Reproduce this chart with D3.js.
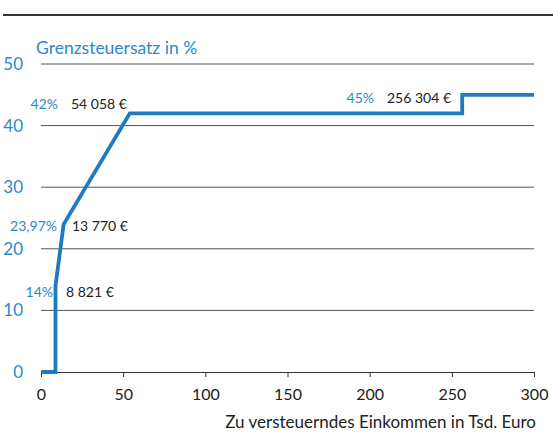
<!DOCTYPE html>
<html><head><meta charset="utf-8">
<script src="https://cdn.jsdelivr.net/npm/d3@7"></script>
<style>
body{margin:0;background:#fff;}
svg{display:block;font-family:"Lato","Noto Sans",sans-serif;}
</style></head>
<body>
<svg id="c" width="553" height="435"></svg>
<script>
const incomeK = [0, 8.821, 8.821, 13.770, 54.058, 256.304, 256.304, 300];
const ratePct = [0, 0, 14, 23.97, 42, 42, 45, 45];
const xTicks = [0, 50, 100, 150, 200, 250, 300];
const yTicks = [0, 10, 20, 30, 40, 50];
const annRate = ["14%", "23,97%", "42%", "45%"];
const annIncome = ["8 821 €", "13 770 €", "54 058 €", "256 304 €"];

const blue = "#1f7bc0", txtBlue = "#2c88c9";
const svg = d3.select("#c");
const x = d3.scaleLinear().domain([0, 300]).range([41, 534]);
const y = d3.scaleLinear().domain([0, 50]).range([372, 64]);

svg.append("line").attr("x1", 3).attr("x2", 553).attr("y1", 15).attr("y2", 15)
  .attr("stroke", "#333").attr("stroke-width", 2);

svg.append("text").attr("x", 36).attr("y", 54).attr("fill", txtBlue)
  .attr("font-size", 17.5).text("Grenzsteuersatz in %");

svg.append("g").selectAll("line").data(yTicks.filter(d => d > 0)).join("line")
  .attr("x1", x(0)).attr("x2", x(300)).attr("y1", d => y(d)).attr("y2", d => y(d))
  .attr("stroke", "#555").attr("stroke-width", 1);

svg.append("g").selectAll("text").data(yTicks).join("text")
  .attr("x", 23).attr("y", d => y(d) + 6).attr("text-anchor", "end")
  .attr("fill", txtBlue).attr("font-size", 17).text(d => d);

const xa = svg.append("g").attr("transform", `translate(0,${y(0)})`)
  .call(d3.axisBottom(x).tickValues(xTicks).tickSize(5).tickPadding(12).tickSizeOuter(0));
xa.select(".domain").attr("stroke", "#333");
xa.selectAll(".tick line").attr("stroke", "#333");
xa.selectAll(".tick text").attr("font-size", 16).attr("fill", "#222")
  .attr("font-family", "\"Lato\",\"Noto Sans\",sans-serif");

svg.append("text").attr("x", 536).attr("y", 428).attr("text-anchor", "end")
  .attr("fill", "#222").attr("font-size", 17).text("Zu versteuerndes Einkommen in Tsd. Euro");

const pts = incomeK.map((v, i) => [v, ratePct[i]]);
svg.append("path").datum(pts)
  .attr("d", d3.line().x(d => x(d[0])).y(d => y(d[1])))
  .attr("fill", "none").attr("stroke", blue).attr("stroke-width", 3.8)
  .attr("stroke-linejoin", "miter");

const annPos = [
  {rx: 53, ry: 297, ix: 66, iy: 297},
  {rx: 57, ry: 231, ix: 72, iy: 231},
  {rx: 58, ry: 109, ix: 71, iy: 109},
  {rx: 374, ry: 103, ix: 387, iy: 103}
];
const ag = svg.append("g");
annRate.forEach((r, i) => {
  ag.append("text").attr("x", annPos[i].rx).attr("y", annPos[i].ry).attr("text-anchor", "end")
    .attr("fill", txtBlue).attr("font-size", 14).text(r);
  ag.append("text").attr("x", annPos[i].ix).attr("y", annPos[i].iy)
    .attr("fill", "#222").attr("font-size", 14).text(annIncome[i]);
});
</script>
</body></html>
